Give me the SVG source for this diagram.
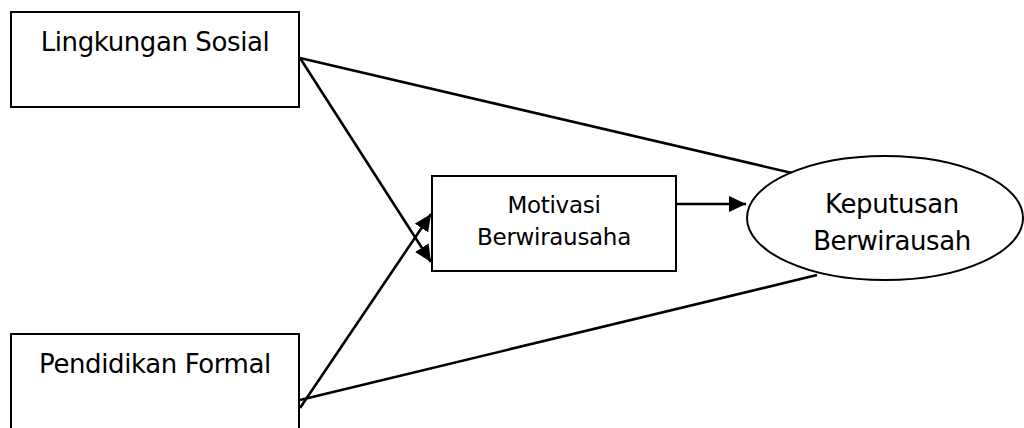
<svg xmlns="http://www.w3.org/2000/svg" width="1024" height="428" viewBox="0 0 1024 428">
<style>
.box{fill:#fff;stroke:#000;stroke-width:2}
.lbl{font-family:"DejaVu Sans","Liberation Sans",sans-serif;font-size:26px;letter-spacing:-0.4px;fill:#000;text-anchor:middle}
.sm{font-size:23px;letter-spacing:-0.3px}
.con{stroke:#000;stroke-width:2.6;fill:none}
</style>
<defs>
<marker id="ah" markerUnits="userSpaceOnUse" markerWidth="18" markerHeight="16" refX="17" refY="8" orient="auto">
<path d="M0,0 L17,8 L0,16 Z" fill="#000"/>
</marker>
</defs>
<rect width="1024" height="428" fill="#fff"/>
<g id="connectors">
<line class="con" x1="300" y1="58" x2="792" y2="173"/>
<line class="con" x1="300" y1="58" x2="431" y2="262" marker-end="url(#ah)"/>
<line class="con" x1="300" y1="408" x2="431" y2="214" marker-end="url(#ah)"/>
<line class="con" x1="300" y1="400" x2="817" y2="275"/>
<line class="con" x1="677" y1="204" x2="746" y2="204" marker-end="url(#ah)"/>
</g>
<g id="lingkungan">
<rect class="box" x="11" y="12" width="288" height="95"/>
<text class="lbl" x="155" y="51">Lingkungan Sosial</text>
</g>
<g id="pendidikan">
<rect class="box" x="11" y="334" width="288" height="120"/>
<text class="lbl" x="155" y="373">Pendidikan Formal</text>
</g>
<g id="motivasi">
<rect class="box" x="432" y="176" width="244" height="95"/>
<text class="lbl sm" x="554" y="213">Motivasi</text>
<text class="lbl sm" x="554" y="245">Berwirausaha</text>
</g>
<g id="keputusan">
<ellipse class="box" cx="885" cy="218" rx="138" ry="62"/>
<text class="lbl" x="892" y="213">Keputusan</text>
<text class="lbl" x="892" y="250">Berwirausah</text>
</g>
</svg>
